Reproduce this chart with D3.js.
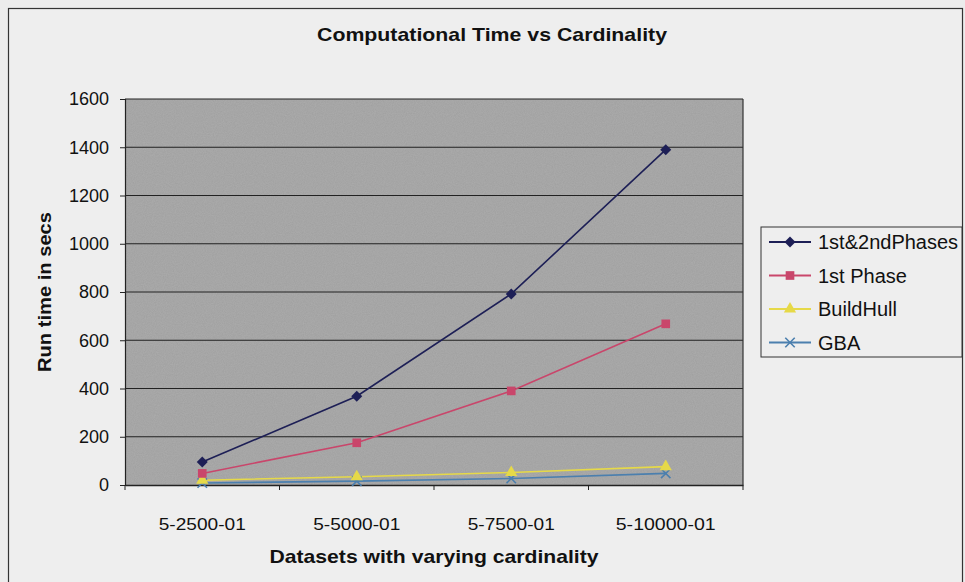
<!DOCTYPE html>
<html>
<head>
    <style>
        body { margin: 0; background: #ececec; }
        text { font-family: "Liberation Sans", Arial, sans-serif; fill: #111; }
    </style>
    <script src="https://d3js.org/d3.v7.min.js"></script>
</head>
<body>
<script>
    var categories = ["5-2500-01", "5-5000-01", "5-7500-01", "5-10000-01"];
    var phases12 = [95, 368, 792, 1390];
    var phase1 = [48, 175, 390, 668];
    var buildHull = [20, 34, 52, 76];
    var gba = [8, 16, 27, 48];
    var yTicks = [0, 200, 400, 600, 800, 1000, 1200, 1400, 1600];

    var series = [
        { name: "1st&2ndPhases", values: phases12, color: "#1d1f56", marker: d3.symbolSquare, size: 60, rot: 45 },
        { name: "1st Phase", values: phase1, color: "#c9466b", marker: d3.symbolSquare, size: 75, rot: 0 },
        { name: "BuildHull", values: buildHull, color: "#e6d948", marker: d3.symbolTriangle, size: 65, rot: 0 },
        { name: "GBA", values: gba, color: "#4b7fae", marker: d3.symbolX, size: 60, rot: 0 }
    ];

    var width = 965, height = 582;
    var m = { left: 125, right: 743, top: 99, bottom: 485 };

    var svg = d3.select("body").append("svg").attr("width", width).attr("height", height);

    // outer chart frame
    svg.append("rect").attr("x", 8.5).attr("y", 8.5).attr("width", 954).attr("height", 600)
       .attr("fill", "#eeeeee").attr("stroke", "#333").attr("stroke-width", 1.2);

    var x = d3.scaleBand().domain(categories).range([m.left, m.right]);
    var y = d3.scaleLinear().domain([0, 1600]).range([m.bottom, m.top]);

    // grainy grey plot area
    var defs = svg.append("defs");
    var f = defs.append("filter").attr("id", "grain");
    f.append("feTurbulence").attr("type", "fractalNoise").attr("baseFrequency", 0.9).attr("numOctaves", 2).attr("result", "n");
    f.append("feColorMatrix").attr("in", "n").attr("type", "matrix")
     .attr("values", "0 0 0 0 0.62  0 0 0 0 0.62  0 0 0 0 0.62  0.5 0 0 0 -0.1").attr("result", "g");
    f.append("feComposite").attr("in", "g").attr("in2", "SourceGraphic").attr("operator", "in");

    svg.append("rect").attr("x", m.left).attr("y", m.top)
       .attr("width", m.right - m.left).attr("height", m.bottom - m.top)
       .attr("fill", "#a2a2a2");
    svg.append("rect").attr("x", m.left).attr("y", m.top)
       .attr("width", m.right - m.left).attr("height", m.bottom - m.top)
       .attr("fill", "#a2a2a2").attr("filter", "url(#grain)").attr("opacity", 0.6);

    // gridlines
    svg.append("g").selectAll("line").data(yTicks.slice(1)).join("line")
       .attr("x1", m.left).attr("x2", m.right)
       .attr("y1", function(d) { return y(d); }).attr("y2", function(d) { return y(d); })
       .attr("stroke", "#222").attr("stroke-width", 1);

    svg.append("line").attr("x1", m.right).attr("x2", m.right).attr("y1", m.top).attr("y2", m.bottom)
       .attr("stroke", "#333").attr("stroke-width", 1.2);

    // y axis
    var yAxis = svg.append("g").attr("transform", "translate(" + m.left + ",0)")
       .call(d3.axisLeft(y).tickValues(yTicks).tickFormat(d3.format("d")).tickSize(5).tickPadding(11));
    yAxis.select(".domain").attr("stroke", "#222").attr("stroke-width", 1.2);
    yAxis.selectAll("text").style("font-size", "18px").attr("fill", "#111");
    yAxis.selectAll(".tick line").attr("stroke", "#222");

    // x axis
    var xAxis = svg.append("g").attr("transform", "translate(0," + m.bottom + ")")
       .call(d3.axisBottom(x).tickSize(0).tickPadding(33));
    xAxis.select(".domain").attr("stroke", "#222").attr("stroke-width", 1.4);
    xAxis.selectAll("text").style("font-size", "17px").attr("fill", "#111")
       .attr("textLength", function(d) { return d.length > 9 ? 100 : 87; })
       .attr("lengthAdjust", "spacingAndGlyphs");
    svg.append("g").selectAll("line").data(d3.range(categories.length + 1)).join("line")
       .attr("x1", function(i) { return m.left + i * x.step(); })
       .attr("x2", function(i) { return m.left + i * x.step(); })
       .attr("y1", m.bottom).attr("y2", m.bottom + 5)
       .attr("stroke", "#222");

    // lines + markers
    var line = d3.line()
        .x(function(d, i) { return x(categories[i]) + x.bandwidth() / 2; })
        .y(function(d) { return y(d); });

    series.slice().reverse().forEach(function(s) {
        svg.append("path").datum(s.values).attr("d", line)
           .attr("fill", "none").attr("stroke", s.color).attr("stroke-width", 1.6);
    });
    series.slice().reverse().forEach(function(s) {
        svg.append("g").selectAll("path").data(s.values).join("path")
           .attr("transform", function(d, i) {
               return "translate(" + (x(categories[i]) + x.bandwidth() / 2) + "," + y(d) + ") rotate(" + s.rot + ")";
           })
           .attr("d", d3.symbol().type(s.marker).size(s.size))
           .attr("fill", s.color)
           .attr("stroke", s.color)
           .attr("stroke-width", s.marker === d3.symbolX ? 1.6 : 0);
    });

    // title and axis titles
    svg.append("text").attr("x", 492).attr("y", 41)
       .attr("text-anchor", "middle").style("font-size", "19px").style("font-weight", "bold")
       .attr("textLength", 350).attr("lengthAdjust", "spacingAndGlyphs")
       .text("Computational Time vs Cardinality");
    svg.append("text").attr("x", 434).attr("y", 563)
       .attr("text-anchor", "middle").style("font-size", "19px").style("font-weight", "bold")
       .attr("textLength", 329).attr("lengthAdjust", "spacingAndGlyphs")
       .text("Datasets with varying cardinality");
    svg.append("text").attr("transform", "translate(51,292) rotate(-90)")
       .attr("text-anchor", "middle").style("font-size", "18px").style("font-weight", "bold")
       .attr("textLength", 160).attr("lengthAdjust", "spacingAndGlyphs")
       .text("Run time in secs");

    // legend
    var lg = svg.append("g").attr("transform", "translate(761,227)");
    lg.append("rect").attr("width", 201).attr("height", 130)
      .attr("fill", "#eeeeee").attr("stroke", "#333").attr("stroke-width", 1);
    series.forEach(function(s, i) {
        var row = lg.append("g").attr("transform", "translate(0," + (15 + i * 33.5) + ")");
        row.append("line").attr("x1", 8).attr("x2", 50).attr("stroke", s.color).attr("stroke-width", 2);
        row.append("path").attr("transform", "translate(29,0) rotate(" + s.rot + ")")
           .attr("d", d3.symbol().type(s.marker).size(s.size))
           .attr("fill", s.color).attr("stroke", s.color)
           .attr("stroke-width", s.marker === d3.symbolX ? 1.6 : 0);
        row.append("text").attr("x", 57).attr("y", 7).style("font-size", "20px").text(s.name);
    });
</script>
</body>
</html>
